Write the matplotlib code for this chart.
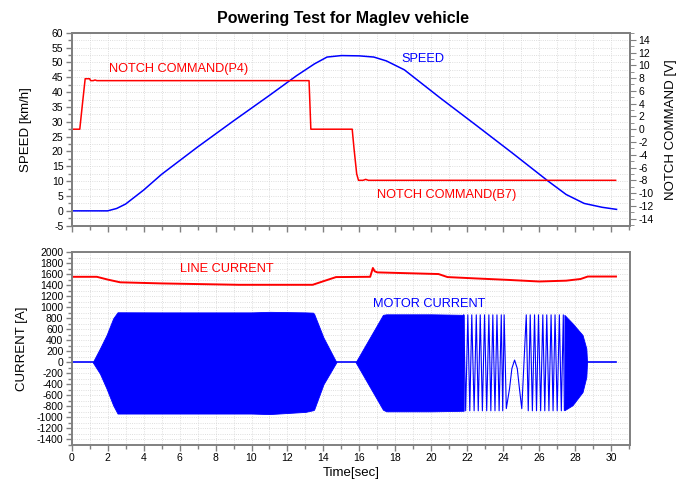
import matplotlib
matplotlib.use("Agg")
import matplotlib.pyplot as plt
from matplotlib.ticker import MultipleLocator

plt.rcParams['font.family'] = ['Liberation Sans', 'DejaVu Sans']
plt.rcParams['axes.unicode_minus'] = False

# speed [km/h]
speed_t = [0, 2.0, 2.5, 3.0, 4.0, 5.0, 7.0, 9.0, 11.0, 12.5, 13.5, 14.2, 15.0,
           16.0, 16.8, 17.5, 18.5, 20.5, 22.5, 24.5, 26.5, 27.5, 28.5, 29.5, 30.3]
speed_v = [0, 0, 0.8, 2.3, 7.0, 12.3, 21.5, 30.3, 38.9, 45.5, 49.5, 51.8, 52.3,
           52.2, 51.8, 50.5, 47.5, 38.0, 28.8, 19.5, 10.0, 5.5, 2.5, 1.2, 0.5]

# notch command [V]
notch_t = [0, 0.45, 0.6, 0.75, 1.0, 1.05, 1.2, 1.3, 1.4, 13.2, 13.3, 15.6,
           15.7, 15.85, 15.95, 16.2, 16.35, 16.5, 30.25]
notch_v = [0, 0, 4.0, 7.9, 7.9, 7.6, 7.6, 7.7, 7.6, 7.6, 0, 0,
           -3.0, -7.0, -8.0, -8.0, -7.85, -8.0, -8.0]

# line current [A]
line_t = [0, 1.4, 2.0, 2.7, 5.0, 9.3, 13.4, 14.0, 14.7, 16.6, 16.75, 16.85,
          17.0, 20.4, 20.9, 22.5, 24.2, 26.0, 27.5, 28.3, 28.7, 30.27]
line_v = [1550, 1550, 1500, 1450, 1430, 1405, 1405, 1470, 1545, 1550, 1710, 1650,
          1630, 1600, 1545, 1520, 1495, 1465, 1480, 1510, 1555, 1555]

# motor current envelope, dense parts
env1_t = [1.17, 1.57, 1.94, 2.31, 2.55, 5.0, 10.0, 11.0, 13.0, 13.42, 13.48, 14.0, 14.72]
env1_hi = [0, 250, 494, 798, 907, 905, 905, 915, 905, 900, 880, 450, 0]
env1_lo = [0, -205, -478, -782, -930, -930, -930, -940, -900, -870, -860, -400, 0]

env2_t = [15.79, 17.31, 17.5, 20.0, 21.8]
env2_hi = [0, 860, 870, 870, 860]
env2_lo = [0, -860, -890, -890, -880]

env3_t = [27.4, 27.85, 28.41, 28.62, 28.66]
env3_hi = [860, 707, 494, 251, 0]
env3_lo = [-870, -780, -540, -265, 0]

# motor current, sparse part (extrema)
zz_t = [21.8, 21.91, 22.03, 22.14, 22.25, 22.38, 22.50, 22.61, 22.72, 22.84,
        22.96, 23.08, 23.2, 23.31, 23.42, 23.54, 23.65, 23.77, 23.89, 23.97,
        24.05, 24.17, 24.35, 24.48, 24.63, 24.78, 24.9, 25.03, 25.28, 25.39,
        25.5, 25.62, 25.74, 25.85, 25.96, 26.08, 26.2, 26.31, 26.42, 26.54,
        26.66, 26.77, 26.88, 27.0, 27.12, 27.23, 27.34, 27.4]
zz_v = [860, -880, 860, -880, 860, -880, 860, -880, 860, -880,
        860, -880, 860, -880, 860, -880, 860, -880, 860, -880,
        860, -840, -477, -113, 40, -113, -477, -840, 860, -880,
        860, -880, 860, -880, 860, -880, 860, -880, 860, -880,
        860, -880, 860, -880, 860, -880, 860, -870]
zero_t = [0, 1.17, 14.72, 15.79, 28.66, 30.27]

blue = '#0000ff'
red = '#ff0000'
frame = '#808080'

fig = plt.figure(figsize=(6.86, 4.86), dpi=100)
ax1 = fig.add_axes([0.1045, 0.5356, 0.8139, 0.3971])
ax3 = fig.add_axes([0.1045, 0.0844, 0.8139, 0.3971])
ax2 = ax1.twinx()


def style(ax):
    for s in ax.spines.values():
        s.set_color(frame)
        s.set_linewidth(1.4)
    ax.tick_params(which='both', direction='out', color=frame, labelsize=7.5,
                   width=1, pad=2)
    ax.tick_params(which='major', length=4)
    ax.tick_params(which='minor', length=3)
    ax.xaxis.set_major_locator(MultipleLocator(2))
    ax.xaxis.set_minor_locator(MultipleLocator(1))
    ax.grid(which='both', color='#d4d4d4', linestyle=':', linewidth=0.6)
    ax.set_axisbelow(True)


# upper plot
style(ax1)
ax1.plot(speed_t, speed_v, color=blue, lw=1.1)
ax1.set_xlim(0, 31.05)
ax1.set_ylim(-5, 60)
ax1.yaxis.set_major_locator(MultipleLocator(5))
ax1.yaxis.set_minor_locator(MultipleLocator(2.5))
ax1.tick_params(axis='x', labelbottom=False)
ax1.set_ylabel('SPEED [km/h]', fontsize=9.5, labelpad=14)

for s in ax2.spines.values():
    s.set_color(frame)
    s.set_linewidth(1.4)
ax2.plot(notch_t, notch_v, color=red, lw=1.1)
ax2.set_ylim(-15.1, 15.1)
ax2.yaxis.set_major_locator(MultipleLocator(2))
ax2.yaxis.set_minor_locator(MultipleLocator(1))
ax2.tick_params(which='both', direction='out', color=frame, labelsize=7.5, pad=2)
ax2.tick_params(which='major', length=4)
ax2.tick_params(which='minor', length=3)
ax2.set_ylabel('NOTCH COMMAND [V]', fontsize=9.5, labelpad=8)

ax1.text(2.1, 47.8, 'NOTCH COMMAND(P4)', color=red, fontsize=9.2, va='center')
ax1.text(18.35, 51.1, 'SPEED', color=blue, fontsize=9.2, va='center')
ax1.text(17.0, 5.4, 'NOTCH COMMAND(B7)', color=red, fontsize=9.2, va='center')

# lower plot
style(ax3)
ax3.fill_between(env1_t, env1_lo, env1_hi, color=blue, lw=0.6)
ax3.fill_between(env2_t, env2_lo, env2_hi, color=blue, lw=0.6)
ax3.fill_between(env3_t, env3_lo, env3_hi, color=blue, lw=0.6)
ax3.plot(zz_t, zz_v, color=blue, lw=0.8)
ax3.plot(zero_t[0:2], [0, 0], color=blue, lw=1.2)
ax3.plot(zero_t[2:4], [0, 0], color=blue, lw=1.2)
ax3.plot(zero_t[4:6], [0, 0], color=blue, lw=1.2)
ax3.plot(line_t, line_v, color=red, lw=1.4)
ax3.set_xlim(0, 31.05)
ax3.set_ylim(-1500, 2000)
ax3.yaxis.set_minor_locator(MultipleLocator(100))
ax3.set_yticks(range(-1400, 2001, 200))
ax3.set_ylabel('CURRENT [A]', fontsize=9.5, labelpad=6)
ax3.set_xlabel('Time[sec]', fontsize=9.5, labelpad=3)

ax3.text(6.0, 1695, 'LINE CURRENT', color=red, fontsize=9.2, va='center')
ax3.text(16.75, 1060, 'MOTOR CURRENT', color=blue, fontsize=9.2, va='center')

fig.suptitle('Powering Test for Maglev vehicle', fontsize=11.5,
             fontweight='bold', y=0.977)

fig.savefig('out.png', dpi=100)
